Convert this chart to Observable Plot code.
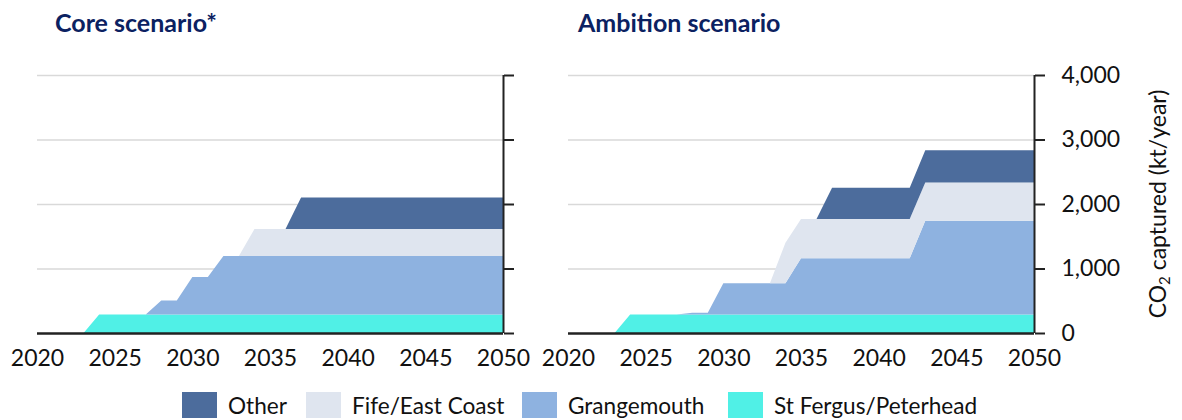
<!DOCTYPE html>
<html>
<head>
<meta charset="utf-8">
<script src="https://cdn.jsdelivr.net/npm/d3@7"></script>
<script src="https://cdn.jsdelivr.net/npm/@observablehq/plot@0.6"></script>
<style>
  html, body { margin: 0; padding: 0; background: #fff; }
  #wrap { position: relative; width: 1182px; height: 420px; font-family: Lato, "Open Sans", sans-serif; overflow: hidden; }
  .title { position: absolute; top: 9px; font-size: 25px; font-weight: 700; color: #0b2161; line-height: 26px; white-space: nowrap; }
  .panel { position: absolute; top: 0; }
  .panel svg { overflow: visible; }
  #ylabel { position: absolute; left: 1157px; top: 204px; width: 300px; margin-left: -150px; margin-top: -13px; height: 26px; line-height: 26px;
            text-align: center; font-size: 23px; color: #111; transform: rotate(-90deg); white-space: nowrap; }
  #ylabel sub { font-size: 15px; vertical-align: -4px; line-height: 0; }
  #legend { position: absolute; top: 392px; left: 0; width: 1182px; height: 26px; }
  .item { position: absolute; top: 0; height: 26px; display: flex; align-items: center; font-size: 22.6px; color: #111; white-space: nowrap; }
  .sw { width: 35px; height: 26px; margin-right: 11px; flex: none; }
</style>
</head>
<body>
<div id="wrap">
  <div class="title" style="left:55px">Core scenario*</div>
  <div class="title" style="left:578px">Ambition scenario</div>
  <div class="panel" id="left" style="left:0px"></div>
  <div class="panel" id="right" style="left:540px"></div>
  <div id="ylabel">CO<sub>2</sub> captured (kt/year)</div>
  <div id="legend"></div>
</div>
<script>
// ---- Data (kt CO2 captured per year), years 2020..2050 ----
const years = d3.range(2020, 2051);
const seriesNames = ["Other", "Fife/East Coast", "Grangemouth", "St Fergus/Peterhead"];
const seriesColors = ["#4c6c9c", "#dfe5ef", "#8eb2e0", "#50f0e6"];
const xTicks = [2020, 2025, 2030, 2035, 2040, 2045, 2050];
const yTicks = [0, 1000, 2000, 3000, 4000];

//                     2020                    2025                    2030                    2035                    2040                    2045                    2050
const coreStFergus   = [0,   0,   0,   0,   285, 285, 285, 285, 285, 285, 285, 285, 285, 285, 285, 285, 285, 285, 285, 285, 285, 285, 285, 285, 285, 285, 285, 285, 285, 285, 285];
const coreGrange     = [0,   0,   0,   0,   0,   0,   0,   0,   220, 220, 585, 585, 910, 910, 910, 910, 910, 910, 910, 910, 910, 910, 910, 910, 910, 910, 910, 910, 910, 910, 910];
const coreFife       = [0,   0,   0,   0,   0,   0,   0,   0,   0,   0,   0,   0,   0,   0,   417, 417, 417, 417, 417, 417, 417, 417, 417, 417, 417, 417, 417, 417, 417, 417, 417];
const coreOther      = [0,   0,   0,   0,   0,   0,   0,   0,   0,   0,   0,   0,   0,   0,   0,   0,   0,   490, 490, 490, 490, 490, 490, 490, 490, 490, 490, 490, 490, 490, 490];

const ambStFergus    = [0,   0,   0,   0,   285, 285, 285, 285, 285, 285, 285, 285, 285, 285, 285, 285, 285, 285, 285, 285, 285, 285, 285, 285, 285, 285, 285, 285, 285, 285, 285];
const ambGrange      = [0,   0,   0,   0,   0,   0,   0,   0,   30,  30,  488, 488, 488, 488, 488, 874, 874, 874, 874, 874, 874, 874, 874, 1456,1456,1456,1456,1456,1456,1456,1456];
const ambFife        = [0,   0,   0,   0,   0,   0,   0,   0,   0,   0,   0,   0,   0,   0,   628, 608, 608, 608, 608, 608, 608, 608, 608, 592, 592, 592, 592, 592, 592, 592, 592];
const ambOther       = [0,   0,   0,   0,   0,   0,   0,   0,   0,   0,   0,   0,   0,   0,   0,   0,   0,   484, 484, 484, 484, 484, 484, 500, 500, 500, 500, 500, 500, 500, 500];

function toRows(map) {
  const rows = [];
  for (const [name, vals] of map) vals.forEach((v, i) => rows.push({year: years[i], series: name, value: v}));
  return rows;
}
const coreRows = toRows([["St Fergus/Peterhead", coreStFergus], ["Grangemouth", coreGrange], ["Fife/East Coast", coreFife], ["Other", coreOther]]);
const ambRows  = toRows([["St Fergus/Peterhead", ambStFergus], ["Grangemouth", ambGrange], ["Fife/East Coast", ambFife], ["Other", ambOther]]);

const stackOrder = ["St Fergus/Peterhead", "Grangemouth", "Fife/East Coast", "Other"];

function panel(rows, opts) {
  return Plot.plot({
    width: opts.width, height: 380,
    marginLeft: opts.ml, marginRight: opts.mr, marginTop: 75, marginBottom: 47,
    style: {fontFamily: "Lato, 'Open Sans', sans-serif", fontSize: "23px", color: "#111", background: "transparent", overflow: "visible"},
    x: {domain: [2020, 2050]},
    y: {domain: [0, 4000]},
    color: {domain: seriesNames, range: seriesColors},
    marks: [
      Plot.gridY({ticks: yTicks.slice(1), stroke: "#d9d9d9", strokeOpacity: 1, strokeWidth: 1.5}),
      Plot.areaY(rows, {x: "year", y: "value", fill: "series", order: stackOrder, fillOpacity: 1}),
      Plot.ruleY([0], {stroke: "#222", strokeWidth: 2.5}),
      Plot.ruleX([2050], {y1: 0, y2: 4000, stroke: "#222", strokeWidth: 2}),
      Plot.axisY({anchor: "right", ticks: yTicks, tickSize: 10, tickPadding: 17, stroke: "#222", strokeWidth: 2,
                  tickFormat: opts.yLabels ? d3.format(",") : () => "", label: null}),
      Plot.axisX({ticks: xTicks, tickSize: 0, tickPadding: 16, tickFormat: d => String(d), label: null})
    ]
  });
}

document.getElementById("left").appendChild(panel(coreRows, {width: 540, ml: 37, mr: 37, yLabels: false}));
document.getElementById("right").appendChild(panel(ambRows, {width: 642, ml: 28, mr: 148, yLabels: true}));

// Legend
const legendPos = [182, 306, 522, 728];
const legend = document.getElementById("legend");
seriesNames.forEach((name, i) => {
  const it = document.createElement("div");
  it.className = "item";
  it.style.left = legendPos[i] + "px";
  const sw = document.createElement("span");
  sw.className = "sw";
  sw.style.background = seriesColors[i];
  it.appendChild(sw);
  it.appendChild(document.createTextNode(name));
  legend.appendChild(it);
});
</script>
</body>
</html>
